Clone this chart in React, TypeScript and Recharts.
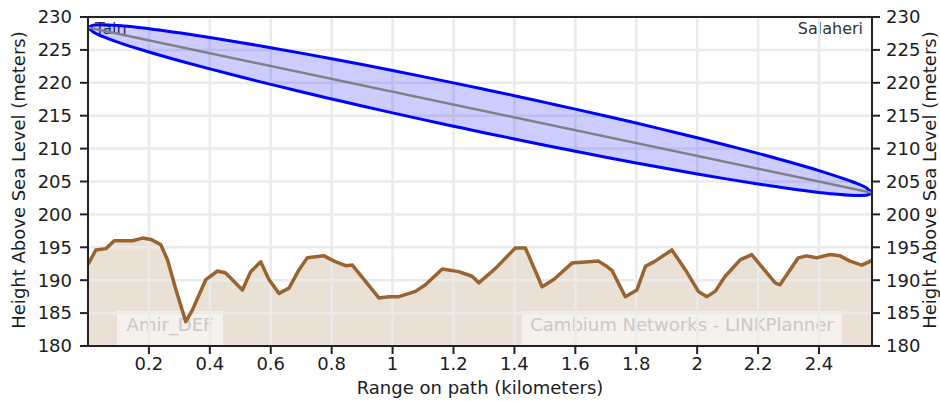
import React from "react";
import {
  ComposedChart,
  Area,
  Line,
  XAxis,
  YAxis,
  CartesianGrid,
  ReferenceLine,
} from "recharts";

// terrain profile (km, m)
const terrainX = [
  0, 0.026, 0.059, 0.086, 0.146, 0.179, 0.207, 0.239, 0.261, 0.289, 0.321, 0.343, 0.387, 0.425,
  0.452, 0.507, 0.534, 0.567, 0.594, 0.627, 0.66, 0.693, 0.72, 0.775, 0.808, 0.846, 0.868, 0.955,
  0.988, 1.021, 1.075, 1.108, 1.163, 1.217, 1.261, 1.283, 1.338, 1.403, 1.436, 1.491, 1.529, 1.589,
  1.676, 1.7, 1.72, 1.764, 1.802, 1.83, 1.862, 1.917, 1.961, 2.004, 2.032, 2.059, 2.092, 2.114,
  2.141, 2.179, 2.256, 2.272, 2.332, 2.359, 2.392, 2.436, 2.469, 2.502, 2.54, 2.574,
];
const terrainH = [
  192.4, 194.6, 194.8, 196.0, 196.0, 196.4, 196.2, 195.4, 193.1, 188.5, 183.7, 185.5, 190.1, 191.4,
  191.1, 188.5, 191.3, 192.8, 190.1, 188.0, 188.8, 191.6, 193.4, 193.7, 192.9, 192.2, 192.3, 187.3,
  187.5, 187.5, 188.3, 189.3, 191.7, 191.3, 190.6, 189.6, 191.8, 194.9, 194.9, 189.0, 190.1, 192.6,
  192.9, 192.2, 191.5, 187.5, 188.5, 192.1, 192.9, 194.6, 191.6, 188.3, 187.5, 188.3, 190.6, 191.7,
  193.1, 193.9, 189.6, 189.3, 193.4, 193.7, 193.4, 193.9, 193.7, 192.9, 192.3, 193.0,
];

// fresnel zone edges
const fresnelX = [
  0, 0.02, 0.05, 0.1, 0.2, 0.3, 0.4, 0.5, 0.6, 0.7, 0.8, 0.9, 1.0, 1.1, 1.2, 1.3, 1.4, 1.5, 1.6,
  1.7, 1.8, 1.9, 2.0, 2.1, 2.2, 2.3, 2.4, 2.5, 2.524, 2.554, 2.574,
];
const fresnelUpper = [
  228.4, 228.79, 228.82, 228.7, 228.22, 227.59, 226.89, 226.13, 225.34, 224.51, 223.65, 222.77,
  221.87, 220.94, 219.99, 219.02, 218.04, 217.02, 216.0, 214.95, 213.88, 212.77, 211.65, 210.48,
  209.28, 208.01, 206.66, 205.12, 204.7, 204.08, 203.3,
];
const fresnelLower = [
  228.4, 227.63, 227.0, 226.14, 224.68, 223.35, 222.11, 220.91, 219.76, 218.63, 217.55, 216.47,
  215.43, 214.4, 213.41, 212.42, 211.46, 210.52, 209.6, 208.69, 207.82, 206.97, 206.15, 205.36,
  204.62, 203.93, 203.34, 202.92, 202.88, 202.92, 203.3,
];

// line of sight
const losX = [0, 2.574];
const losH = [228.4, 203.3];

const xTicks = [0.2, 0.4, 0.6, 0.8, 1, 1.2, 1.4, 1.6, 1.8, 2, 2.2, 2.4];
const yTicks = [180, 185, 190, 195, 200, 205, 210, 215, 220, 225, 230];

const terrainData = terrainX.map((x, i) => ({ x, h: terrainH[i] }));
const fresnelData = fresnelX.map((x, i) => ({ x, band: [fresnelLower[i], fresnelUpper[i]] }));
const losData = losX.map((x, i) => ({ x, h: losH[i] }));

const W = 940;
const H = 401;
const X_DOMAIN: [number, number] = [0, 2.574];
const Y_DOMAIN: [number, number] = [180, 230];
const FONT = '"DejaVu Sans", sans-serif';
const tick = { fill: "#1c1c24", fontSize: 18, fontFamily: FONT };

export default function App() {
  return (
    <div style={{ position: "absolute", left: 0, top: 0, width: W, height: H, background: "#fff" }}>
      {/* terrain fill underneath everything */}
      <div style={{ position: "absolute", left: 0, top: 0 }}>
        <ComposedChart width={W} height={H} margin={{ top: 17, left: 88, right: 68, bottom: 55 }}>
          <XAxis type="number" dataKey="x" domain={X_DOMAIN} allowDataOverflow hide />
          <YAxis type="number" domain={Y_DOMAIN} allowDataOverflow hide />
          <Area
            data={terrainData}
            dataKey="h"
            type="linear"
            stroke="none"
            fill="#e9e0d6"
            fillOpacity={1}
            isAnimationActive={false}
          />
        </ComposedChart>
      </div>

      {/* watermarks, site names, axis titles */}
      <svg width={W} height={H} style={{ position: "absolute", left: 0, top: 0, fontFamily: FONT }}>
        <rect x={117} y={311} width={106} height={35} fill="#fff" fillOpacity={0.55} />
        <text x={170} y={331} textAnchor="middle" fontSize={18} fill="#c8c8c8">
          Amir_DEF
        </text>
        <rect x={522} y={311} width={320} height={35} fill="#fff" fillOpacity={0.55} />
        <text x={682} y={331} textAnchor="middle" fontSize={18} fill="#c8c8c8">
          Cambium Networks - LINKPlanner
        </text>
        <text x={95} y={34} fontSize={16} fill="#333">
          Tain
        </text>
        <text x={863} y={34} textAnchor="end" fontSize={16} fill="#333">
          Salaheri
        </text>
        <text x={480} y={394} textAnchor="middle" fontSize={18} fill="#1c1c24">
          Range on path (kilometers)
        </text>
        <text x={25} y={180} textAnchor="middle" fontSize={18} fill="#1c1c24" transform="rotate(-90 25 180)">
          Height Above Sea Level (meters)
        </text>
        <text x={936} y={180} textAnchor="middle" fontSize={18} fill="#1c1c24" transform="rotate(-90 936 180)">
          Height Above Sea Level (meters)
        </text>
      </svg>

      {/* grid, axes, fresnel zone, terrain line */}
      <div style={{ position: "absolute", left: 0, top: 0 }}>
        <ComposedChart width={W} height={H} margin={{ top: 17, right: 0, left: 0, bottom: 0 }}>
          <CartesianGrid yAxisId="left" stroke="#ebebeb" strokeWidth={2.5} />
          <XAxis
            type="number"
            dataKey="x"
            domain={X_DOMAIN}
            allowDataOverflow
            ticks={xTicks}
            interval={0}
            tickFormatter={(v) => String(v)}
            height={55}
            tick={tick}
            tickSize={8}
            tickMargin={3}
            stroke="#222"
            strokeWidth={2}
          />
          <YAxis
            yAxisId="left"
            type="number"
            domain={Y_DOMAIN}
            allowDataOverflow
            ticks={yTicks}
            interval={0}
            width={88}
            tick={tick}
            tickSize={8}
            tickMargin={8}
            stroke="#222"
            strokeWidth={2}
          />
          <YAxis
            yAxisId="right"
            orientation="right"
            type="number"
            domain={Y_DOMAIN}
            allowDataOverflow
            ticks={yTicks}
            interval={0}
            width={68}
            tick={tick}
            tickSize={8}
            tickMargin={6}
            stroke="#222"
            strokeWidth={2}
          />
          <Area
            yAxisId="left"
            data={fresnelData}
            dataKey="band"
            type="monotone"
            stroke="#0000ff"
            strokeWidth={3}
            fill="#0000ff"
            fillOpacity={0.2}
            isAnimationActive={false}
          />
          <Line
            yAxisId="left"
            data={losData}
            dataKey="h"
            type="linear"
            stroke="#808080"
            strokeWidth={2.5}
            dot={false}
            isAnimationActive={false}
          />
          <Line
            yAxisId="left"
            data={terrainData}
            dataKey="h"
            type="linear"
            stroke="#9a6431"
            strokeWidth={3.5}
            strokeLinejoin="round"
            dot={false}
            isAnimationActive={false}
          />
          <ReferenceLine yAxisId="left" y={230} stroke="#222" strokeWidth={2} />
        </ComposedChart>
      </div>
    </div>
  );
}
